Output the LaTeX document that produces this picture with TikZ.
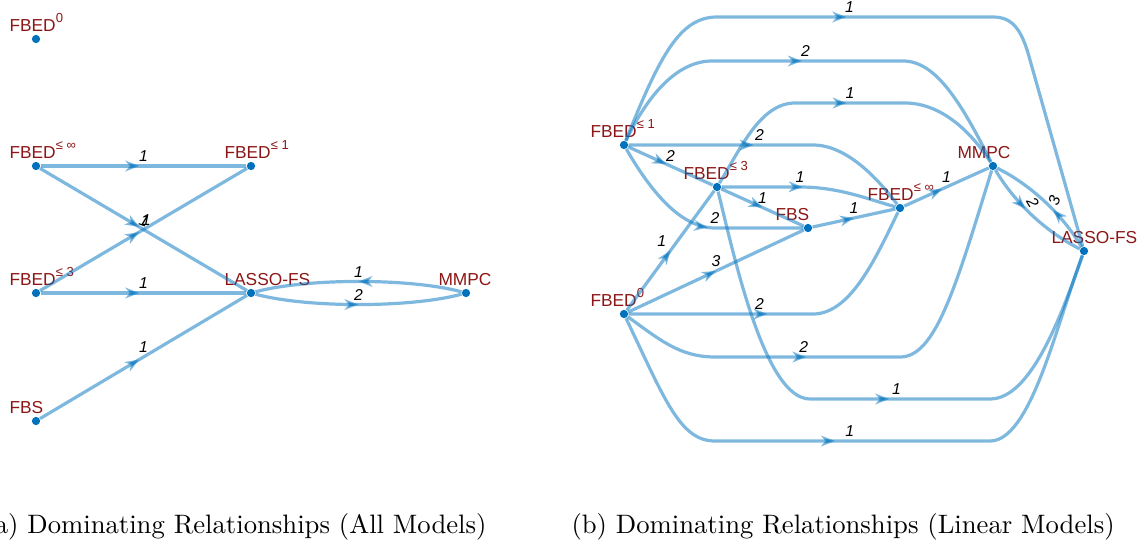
\documentclass[tikz,border=0pt]{standalone}
\usepackage{fontspec}
\usepackage{tikz}
\usetikzlibrary{calc,arrows.meta,decorations.markings}
\newfontfamily\lblfont{Liberation Sans}
\definecolor{edgeblue}{RGB}{0,114,189}
\definecolor{lblred}{RGB}{140,22,22}
\newcommand{\sups}[1]{\raisebox{3.2pt}{\fontsize{4.9}{5}\selectfont #1}}
\newcommand{\vtx}[4]{\node[vdot] (#1) at (#2) {};
  \node[vlbl] (#1-lbl) at ($(#1)+(#4,-7.5)$) {#3};}

\begin{document}
\begin{tikzpicture}[x=0.375pt,y=-0.375pt,
  vdot/.style={circle,fill=edgeblue,inner sep=0pt,minimum size=3.1pt},
  vlbl/.style={anchor=base west,inner sep=0pt,text=lblred,font=\lblfont\fontsize{6.5}{7}\selectfont},
  link/.style={draw=edgeblue,opacity=0.5,line width=1.2pt},
  elbl/.style={opacity=1,text=black,inner sep=1pt,font=\lblfont\itshape\fontsize{5.9}{6}\selectfont},
  arr/.style={postaction={decorate,decoration={markings,
    mark=at position #1 with {\arrow{Stealth[length=5.2pt,width=4pt,inset=1.5pt]}}}}},
  arr/.default=0.5,
  caption/.style={inner sep=0pt,font=\fontsize{10}{12}\selectfont}]
\useasboundingbox (0,0) rectangle (1138,544);

% (a) all models
\vtx{a0}{36,39}{FBED\sups{0}}{-27}
\vtx{ainf}{36,166}{FBED\sups{≤ ∞}}{-27}
\vtx{a1}{251,166}{FBED\sups{≤ 1}}{-27}
\vtx{a3}{36,293}{FBED\sups{≤ 3}}{-27}
\vtx{alasso}{251,293}{LASSO-FS}{-27}
\vtx{ammpc}{466,293}{MMPC}{-28}
\vtx{afbs}{36,421}{FBS}{-27}

\draw[link,arr=0.48] (ainf) -- node[elbl,above,midway] {1} (a1);
\draw[link,arr=0.48] (ainf) -- node[elbl,above,midway,xshift=-1pt,rotate=-20] {1} (alasso);
\draw[link,arr=0.48] (a3) -- node[elbl,above,midway,xshift=1pt] {1} (a1);
\draw[link,arr=0.48] (a3) -- node[elbl,above,midway] {1} (alasso);
\draw[link,arr=0.48] (afbs) -- node[elbl,above,midway] {1} (alasso);
\draw[link,arr] (ammpc) .. controls (410,278) and (307,278) .. node[elbl,above,midway] {1} (alasso);
\draw[link,arr] (alasso) .. controls (307,308) and (410,308) .. node[elbl,above,midway] {2} (ammpc);

% (b) linear models
\vtx{b1}{624,145}{FBED\sups{≤ 1}}{-34}
\vtx{b3}{717,187}{FBED\sups{≤ 3}}{-34}
\vtx{bfbs}{808,228}{FBS}{-33}
\vtx{binf}{900,208}{FBED\sups{≤ ∞}}{-33}
\vtx{bmmpc}{993,166}{MMPC}{-36}
\vtx{blasso}{1084,251}{LASSO-FS}{-33}
\vtx{b0}{624,314}{FBED\sups{0}}{-34}

\draw[link,arr=0.42] (b1) .. controls (660,55) and (680,17) .. (717,17) -- node[elbl,above,pos=0.48] {1} (993,17)
  .. controls (1013,17) and (1022,30) .. (1030,60) -- (blasso);
\draw[link,arr=0.47] (b1) .. controls (650,90) and (680,61) .. (712,61) -- node[elbl,above,pos=0.49] {2} (903,61)
  .. controls (935,61) and (960,100) .. (bmmpc);
\draw[link,arr=0.43] (b1) -- node[elbl,above,pos=0.71] {2} (813,145) .. controls (845,145) and (875,175) .. (binf);
\draw[link,arr=0.45] (b1) -- node[elbl,above,midway] {2} (b3);
\draw[link,arr=0.55] (b1) .. controls (650,190) and (680,228) .. (715,228) -- node[elbl,above,pos=0] {2} (bfbs);

\draw[link,arr=0.5] (b3) .. controls (740,150) and (760,103) .. (795,103) -- node[elbl,above,pos=0.5] {1} (905,103)
  .. controls (940,103) and (970,130) .. (bmmpc);
\draw[link,arr=0.46] (b3) -- node[elbl,above,pos=1] {1} (800,187) .. controls (840,187) and (870,200) .. (binf);
\draw[link,arr] (b3) -- node[elbl,above,midway] {1} (bfbs);
\draw[link,arr=0.53] (b3) .. controls (735,260) and (765,399) .. (810,399) -- node[elbl,above,pos=0.48] {1} (990,399)
  .. controls (1030,399) and (1060,320) .. (blasso);

\draw[link,arr] (b0) -- node[elbl,above left,midway] {1} (b3);
\draw[link,arr] (b0) -- node[elbl,above,midway] {3} (bfbs);
\draw[link,arr=0.43] (b0) -- node[elbl,above,pos=0.71] {2} (813,314) .. controls (850,314) and (875,260) .. (binf);
\draw[link,arr=0.38] (b0) .. controls (660,340) and (680,357) .. (715,357) -- node[elbl,above,pos=0.48] {2} (900,357)
  .. controls (935,357) and (955,290) .. (bmmpc);
\draw[link,arr=0.43] (b0) .. controls (665,400) and (680,441) .. (715,441) -- node[elbl,above,pos=0.49] {1} (990,441)
  .. controls (1030,441) and (1055,330) .. (blasso);

\draw[link,arr] (bfbs) -- node[elbl,above,midway] {1} (binf);
\draw[link,arr=0.45] (binf) -- node[elbl,above,midway] {1} (bmmpc);
\draw[link,arr=0.42] (bmmpc) .. controls (1015,203) and (1046,232) .. node[elbl,pos=0.4,xshift=3.4pt,yshift=1.9pt,rotate=-60] {2} (blasso);
\draw[link,arr=0.4] (blasso) .. controls (1062,214) and (1031,185) .. node[elbl,pos=0.45,xshift=2pt,yshift=2pt,rotate=70] {3} (bmmpc);

\node[caption,anchor=base east] (capa) at (487,533) {(a) Dominating Relationships (All Models)};
\node[caption,anchor=base west] (capb) at (571,533) {(b) Dominating Relationships (Linear Models)};
\end{tikzpicture}
\end{document}
